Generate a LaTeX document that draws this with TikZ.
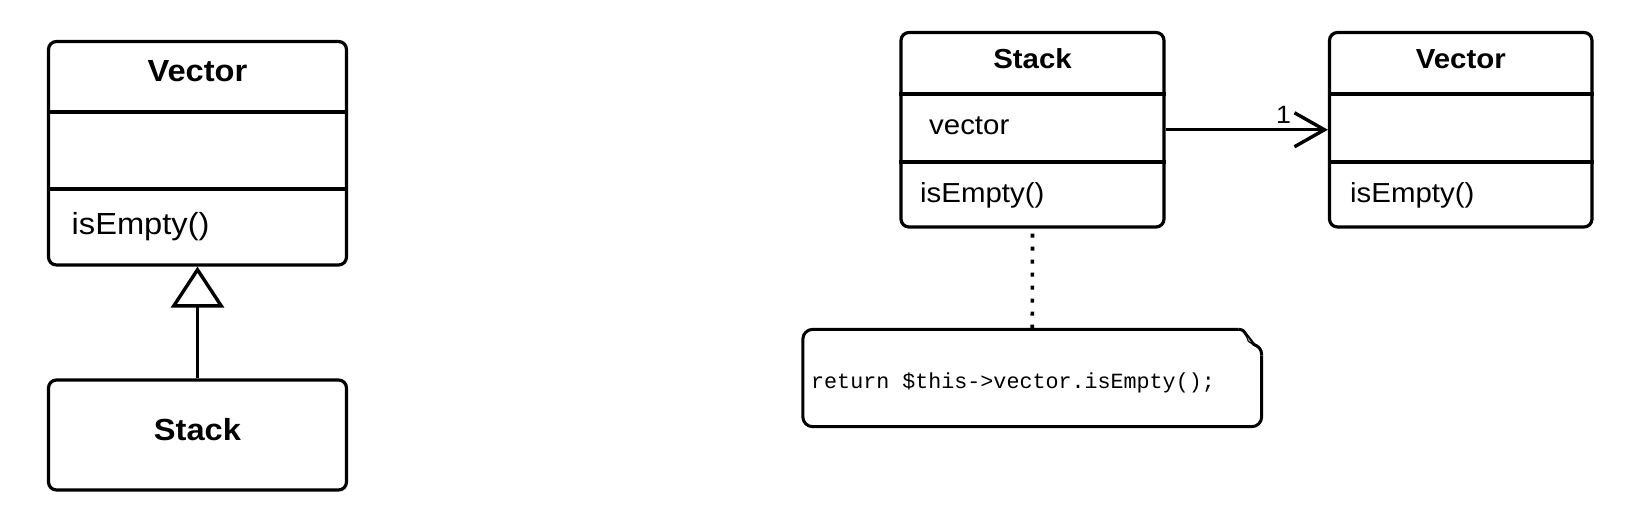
\documentclass[tikz,border=0pt]{standalone}
\usepackage{fontspec}
\setmainfont{Liberation Sans}[FakeStretch=1.07]
\newfontfamily\codefont{Liberation Mono}
\usetikzlibrary{arrows.meta,calc}
\begin{document}
\begin{tikzpicture}[x=1pt,y=-1pt,
  classbox/.style={draw=black, line width=3.2pt, rounded corners=8pt, fill=white, inner sep=0pt},
  divider/.style={draw=black, line width=3.2pt},
  txt/.style={inner sep=0pt, text=black},
  bigname/.style={txt, anchor=base, font=\fontsize{30.5}{36}\selectfont\bfseries},
  bigop/.style={txt, anchor=base west, font=\fontsize{30.5}{36}\selectfont},
  smallname/.style={txt, anchor=base, font=\fontsize{27.5}{33}\selectfont\bfseries},
  smallop/.style={txt, anchor=base west, font=\fontsize{27.5}{33}\selectfont},
  conn/.style={draw=black, line width=3.4pt},
  notestyle/.style={draw=black, line width=3pt, line join=round}
]
\path[fill=white] (0,0) rectangle (1636,528);

% ---- left: inheritance ----
\node[classbox, minimum width=298pt, minimum height=223.5pt] (vecL) at (197.5,153.25) {};
\draw[divider] (vecL.west |- 0,112) -- (vecL.east |- 0,112);
\draw[divider] (vecL.west |- 0,189) -- (vecL.east |- 0,189);
\node[bigname] (vecLname) at (197.5,81.5) {Vector};
\node[bigop] (vecLop) at (71.5,234) {isEmpty()};

\node[classbox, minimum width=298pt, minimum height=110pt] (stackL) at (197.5,435) {};
\node[bigname] (stackLname) at (197.5,440) {Stack};

\draw[conn, -{Triangle[fill=white, length=41pt, width=53pt]}] (stackL.north) -- (vecL.south);

% ---- right: composition ----
\node[classbox, minimum width=263pt, minimum height=194.5pt] (stackR) at (1032.5,129.75) {};
\draw[divider] (stackR.west |- 0,94) -- (stackR.east |- 0,94);
\draw[divider] (stackR.west |- 0,162) -- (stackR.east |- 0,162);
\node[smallname] (stackRname) at (1032.5,68) {Stack};
\node[smallop] (stackRattr) at (929,134) {vector};
\node[smallop] (stackRop) at (920,202) {isEmpty()};

\node[classbox, minimum width=262.5pt, minimum height=194.5pt] (vecR) at (1460.75,129.75) {};
\draw[divider] (vecR.west |- 0,94) -- (vecR.east |- 0,94);
\draw[divider] (vecR.west |- 0,162) -- (vecR.east |- 0,162);
\node[smallname] (vecRname) at (1460.75,68) {Vector};
\node[smallop] (vecRop) at (1350,202) {isEmpty()};

\draw[conn, -{Straight Barb[length=30pt, width=34pt]}] (stackR.east) -- (vecR.west);
\node[txt, anchor=base west, font=\fontsize{25}{30}\selectfont] (mult) at (1276,123) {1};

% ---- note ----
\node[inner sep=0pt, minimum width=458.5pt, minimum height=97pt] (note) at (1032.25,378) {};
\draw[notestyle, rounded corners=10pt] ($(note.north east)+(-23.5,0)$) -- (note.north west) -- (note.south west) -- (note.south east) -- ($(note.north east)+(0,26)$);
\draw[notestyle] ($(note.north east)+(-23.5,0)$) .. controls ($(note.north east)+(-18,0)$) and ($(note.north east)+(-17,3)$) .. ($(note.north east)+(-15,6)$) -- ($(note.north east)+(-8,15)$) .. controls ($(note.north east)+(-3,17)$) and ($(note.north east)+(0,20)$) .. ($(note.north east)+(0,26)$);
\draw[fill=black!35, draw=black, line width=1pt] ($(note.north east)+(-16.5,3.5)$) -- ($(note.north east)+(-13.5,12)$) -- ($(note.north east)+(-7.5,16)$) -- cycle;
\node[txt, anchor=base west, font=\codefont\fontsize{21.7}{26}\selectfont] (notetext) at (811,388) {return \$this->vector.isEmpty();};

\draw[draw=black, line width=3.6pt, dash pattern=on 4pt off 9pt, dash phase=8pt] (stackR.south) -- (note.north);
\end{tikzpicture}
\end{document}
